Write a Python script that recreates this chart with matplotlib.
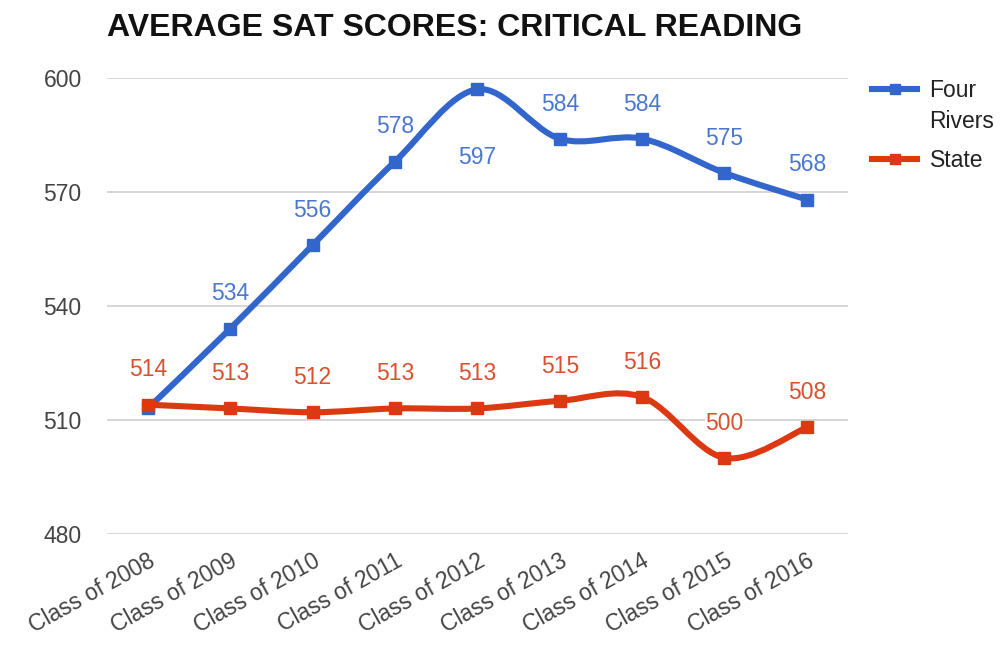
import matplotlib.pyplot as plt
import numpy as np
from matplotlib.path import Path
from matplotlib.patches import PathPatch
from matplotlib.lines import Line2D

plt.rcParams['font.family'] = ['Liberation Sans', 'DejaVu Sans']

classes = ['Class of 2008', 'Class of 2009', 'Class of 2010', 'Class of 2011',
           'Class of 2012', 'Class of 2013', 'Class of 2014', 'Class of 2015',
           'Class of 2016']
four_rivers = [513, 534, 556, 578, 597, 584, 584, 575, 568]
state = [514, 513, 512, 513, 513, 515, 516, 500, 508]
yticks = [480, 510, 540, 570, 600]

BLUE = '#3366cc'
RED = '#dc3912'


def smooth_path(x, y, k=1 / 6.0):
    # cubic bezier through every point, catmull-rom style tangents
    x = np.asarray(x, float)
    y = np.asarray(y, float)
    n = len(x)
    verts = [(x[0], y[0])]
    codes = [Path.MOVETO]
    for i in range(n - 1):
        p0 = max(i - 1, 0)
        p3 = min(i + 2, n - 1)
        c1 = (x[i] + (x[i + 1] - x[p0]) * k, y[i] + (y[i + 1] - y[p0]) * k)
        c2 = (x[i + 1] - (x[p3] - x[i]) * k, y[i + 1] - (y[p3] - y[i]) * k)
        verts += [c1, c2, (x[i + 1], y[i + 1])]
        codes += [Path.CURVE4] * 3
    return Path(verts, codes)


fig = plt.figure(figsize=(10.06, 6.55), dpi=100)
ax = fig.add_axes([0.106, 0.185, 0.737, 0.696])

x = np.arange(len(classes))

for vals, color, z in [(four_rivers, BLUE, 3), (state, RED, 4)]:
    ax.add_patch(PathPatch(smooth_path(x, vals), facecolor='none',
                           edgecolor=color, lw=4.4, zorder=z,
                           capstyle='round', joinstyle='round'))
    ax.plot(x, vals, linestyle='none', marker='s', markersize=8.5,
            color=color, zorder=z + 0.5)

# data labels (state labels on top, hiding the first blue one as in the original)
for i, v in enumerate(four_rivers):
    dy = 25
    if v == max(four_rivers):
        dy = -49
    ax.annotate(str(v), (x[i], v), xytext=(0, dy), textcoords='offset points',
                ha='center', va='center', fontsize=16.5, color='#4a78cf', zorder=5)
for i, v in enumerate(state):
    ax.annotate(str(v), (x[i], v), xytext=(0, 25), textcoords='offset points',
                ha='center', va='center', fontsize=16.5, color='#d9502e', zorder=6,
                bbox=dict(boxstyle='square,pad=0.0', fc='white', ec='none'))

ax.set_xlim(-0.5, len(classes) - 0.5)
ax.set_ylim(480, 600)
ax.set_yticks(yticks)
ax.set_yticklabels([str(t) for t in yticks])
ax.yaxis.grid(True, color='#d0d0d0', lw=1.2)
ax.set_axisbelow(True)
ax.set_xticks(x)
ax.set_xticklabels(classes, rotation=29, ha='right', rotation_mode='anchor')
ax.tick_params(axis='both', length=0, labelsize=16.5, labelcolor='#444444')
ax.tick_params(axis='y', pad=18)
ax.tick_params(axis='x', pad=11)
for s in ax.spines.values():
    s.set_visible(False)

fig.text(0.106, 0.958, 'AVERAGE SAT SCORES: CRITICAL READING', fontsize=23,
         fontweight='bold', color='#111111', ha='left', va='center')

# legend, drawn by hand so the handle sits level with the first text line
for yy, color, label in [(0.864, BLUE, 'Four\nRivers'), (0.757, RED, 'State')]:
    fig.add_artist(Line2D([0.867, 0.912], [yy, yy], color=color, lw=4.4,
                          transform=fig.transFigure))
    fig.add_artist(Line2D([0.8895], [yy], color=color, marker='s',
                          markersize=7, transform=fig.transFigure))
    fig.text(0.924, yy + 0.015, label, fontsize=16.5, color='#222222',
             ha='left', va='top', linespacing=1.45)

fig.savefig('out.png', dpi=100)
